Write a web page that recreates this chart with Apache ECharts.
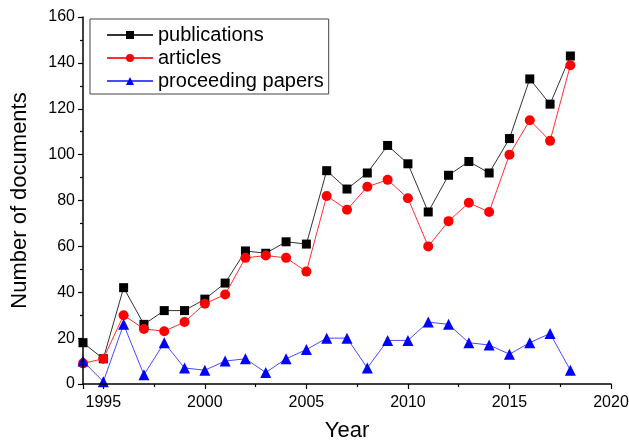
<!DOCTYPE html>
<html>
<head>
<meta charset="utf-8">
<script src="https://cdn.jsdelivr.net/npm/echarts@6/dist/echarts.min.js"></script>
<style>html,body{margin:0;padding:0;background:#fff}#c{width:629px;height:442px}</style>
</head>
<body>
<div id="c"></div>
<script>
const years = [1994,1995,1996,1997,1998,1999,2000,2001,2002,2003,2004,2005,2006,2007,2008,2009,2010,2011,2012,2013,2014,2015,2016,2017,2018];
const publications = [18,11,42,26,32,32,37,44,58,57,62,61,93,85,92,104,96,75,91,97,92,107,133,122,143];
const articles = [9,11,30,24,23,27,35,39,55,56,55,49,82,76,86,89,81,60,71,79,75,100,115,106,139];
const proceedingPapers = [10,1,26,4,18,7,6,10,11,5,11,15,20,20,7,19,19,27,26,18,17,13,18,22,6];
const yTicks = [0,20,40,60,80,100,120,140,160];

const FONT = 'Liberation Sans, Arial, sans-serif';
const pair = arr => years.map((y, i) => [y, arr[i]]);
const gap = publications.map((v, i) => v - articles[i]);

const chart = echarts.init(document.getElementById('c'), null, {renderer: 'canvas'});
chart.setOption({
  animation: false,
  backgroundColor: '#fff',
  grid: {left: 83, right: 18, top: 17, bottom: 58, outerBoundsMode: 'none', containLabel: false},
  legend: {
    orient: 'vertical', left: 90, top: 19,
    itemWidth: 46, itemHeight: 10, itemGap: 3,
    padding: [6, 5, 3, 16],
    borderColor: '#444', borderWidth: 1,
    textStyle: {fontSize: 20, fontFamily: FONT, color: '#000'},
    data: ['publications', 'articles', 'proceeding papers']
  },
  xAxis: {
    type: 'value', min: years[0], max: 2020, splitNumber: 5, z: 10,
    name: 'Year', nameLocation: 'middle', nameGap: 36,
    nameTextStyle: {fontSize: 22, fontFamily: FONT, color: '#000'},
    axisLine: {lineStyle: {color: '#000', width: 1.5}},
    axisTick: {length: 5, lineStyle: {color: '#000', width: 1.2}},
    minorTick: {show: true, splitNumber: 2, length: 3, lineStyle: {color: '#000', width: 1.2}},
    splitLine: {show: false},
    axisLabel: {fontSize: 16, fontFamily: FONT, color: '#000', margin: 11,
      formatter: v => (v % 5 === 0 ? String(v) : '')}
  },
  yAxis: {
    type: 'value', min: yTicks[0], max: yTicks[yTicks.length - 1], interval: 20, z: 10,
    name: 'Number of documents', nameLocation: 'middle', nameGap: 52,
    nameTextStyle: {fontSize: 22, fontFamily: FONT, color: '#000'},
    axisLine: {show: true, lineStyle: {color: '#000', width: 1.5}},
    axisTick: {show: true, length: 5, lineStyle: {color: '#000', width: 1.2}},
    minorTick: {show: true, splitNumber: 2, length: 3, lineStyle: {color: '#000', width: 1.2}},
    splitLine: {show: false},
    axisLabel: {fontSize: 16, fontFamily: FONT, color: '#000', margin: 8}
  },
  series: [
    {name: 'base', type: 'line', stack: 'fill', data: pair(articles), symbol: 'none',
     lineStyle: {opacity: 0}, silent: true, z: 1},
    {name: 'band', type: 'line', stack: 'fill', data: pair(gap), symbol: 'none',
     lineStyle: {opacity: 0}, areaStyle: {color: '#f4f4f4', opacity: 1}, silent: true, z: 1},
    {name: 'publications', type: 'line', data: pair(publications),
     symbol: 'rect', symbolSize: 9, showAllSymbol: true,
     lineStyle: {color: '#333', width: 1}, itemStyle: {color: '#000'}, z: 3},
    {name: 'articles', type: 'line', data: pair(articles),
     symbol: 'circle', symbolSize: 10, showAllSymbol: true,
     lineStyle: {color: '#ff3030', width: 1}, itemStyle: {color: '#ff0000'}, z: 4},
    {name: 'proceeding papers', type: 'line', data: pair(proceedingPapers),
     symbol: 'triangle', symbolSize: 11, showAllSymbol: true,
     lineStyle: {color: '#4a4aff', width: 1}, itemStyle: {color: '#0000ff'}, z: 5}
  ]
});
</script>
</body>
</html>
